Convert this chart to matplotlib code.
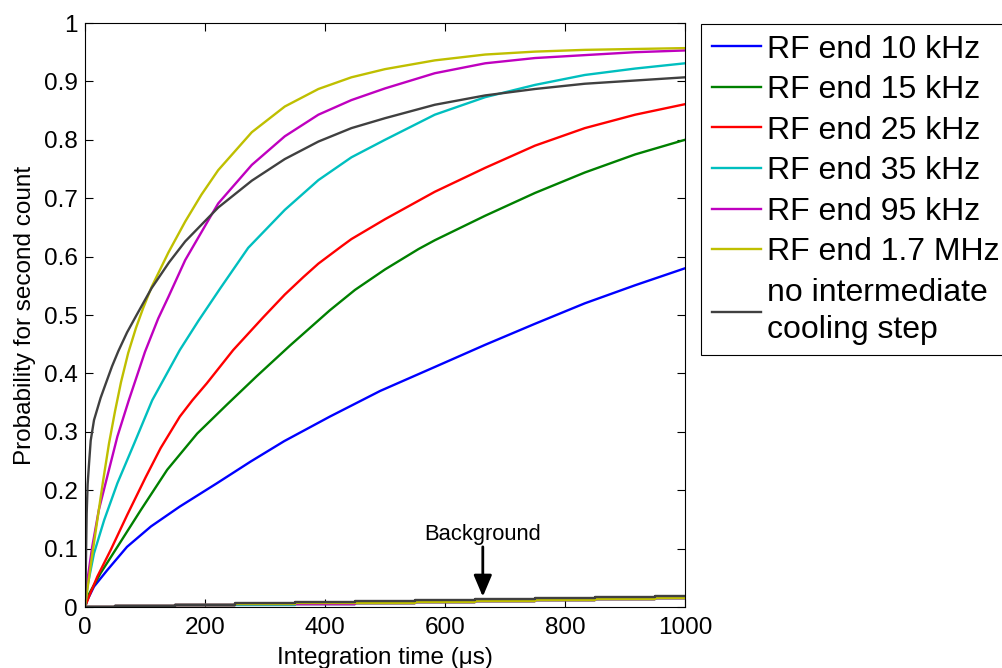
import matplotlib
matplotlib.use("Agg")
import matplotlib.pyplot as plt

plt.rcParams["font.family"] = ["Liberation Sans", "DejaVu Sans"]

# Second-count probability vs. integration time, one curve per RF end frequency
labels = ["RF end 10 kHz", "RF end 15 kHz", "RF end 25 kHz", "RF end 35 kHz",
          "RF end 95 kHz", "RF end 1.7 MHz", "no intermediate\ncooling step"]
colors = ["#0000ff", "#008000", "#ff0000", "#00bfbf", "#bf00bf", "#bfbf00", "#404040"]

t_10k = [0, 4, 15, 37, 70, 110, 158, 220, 276, 332, 408, 492, 583, 667, 750, 833, 917, 1000]
p_10k = [0, 0.012, 0.035, 0.063, 0.103, 0.138, 0.172, 0.212, 0.249, 0.284, 0.326, 0.370,
         0.411, 0.449, 0.485, 0.520, 0.551, 0.580]

t_15k = [0, 7, 26, 54, 93, 137, 187, 237, 286, 342, 408, 450, 500, 556, 583, 667, 750,
         833, 917, 1000]
p_15k = [0, 0.023, 0.058, 0.103, 0.166, 0.235, 0.297, 0.347, 0.395, 0.448, 0.508, 0.543,
         0.578, 0.613, 0.628, 0.670, 0.709, 0.744, 0.775, 0.800]

t_25k = [0, 6.7, 20.5, 43, 70.5, 101, 126, 158, 179, 203, 247, 297, 333, 364, 389, 428,
         444, 500, 583, 667, 750, 833, 917, 1000]
p_25k = [0, 0.018, 0.052, 0.098, 0.158, 0.222, 0.272, 0.326, 0.354, 0.383, 0.440, 0.496,
         0.535, 0.565, 0.588, 0.618, 0.630, 0.664, 0.711, 0.752, 0.790, 0.820, 0.843, 0.861]

t_35k = [0, 4, 15, 32, 54, 82, 112, 158, 189, 225, 272, 333, 389, 444, 500, 583, 667,
         750, 833, 917, 1000]
p_35k = [0, 0.035, 0.092, 0.149, 0.212, 0.280, 0.354, 0.440, 0.490, 0.545, 0.615, 0.680,
         0.731, 0.770, 0.800, 0.843, 0.873, 0.894, 0.911, 0.922, 0.931]

t_95k = [0, 4, 12, 23, 37, 54, 73, 100, 122, 139, 167, 206, 222, 278, 333, 389, 444, 500,
         583, 667, 750, 833, 917, 1000]
p_95k = [0, 0.046, 0.103, 0.166, 0.223, 0.292, 0.354, 0.437, 0.494, 0.531, 0.594, 0.663,
         0.691, 0.757, 0.806, 0.843, 0.868, 0.888, 0.914, 0.931, 0.940, 0.945, 0.950, 0.953]

t_17M = [0, 10, 20, 30, 40, 50, 60, 72, 85, 97, 111, 139, 167, 194, 222, 278, 333, 389,
         444, 500, 583, 667, 750, 833, 1000]
p_17M = [0, 0.075, 0.145, 0.215, 0.280, 0.335, 0.385, 0.435, 0.478, 0.512, 0.548, 0.607,
         0.660, 0.706, 0.748, 0.813, 0.857, 0.887, 0.907, 0.921, 0.936, 0.946, 0.951,
         0.954, 0.957]

t_none = [0, 1, 2.8, 4.4, 6.7, 9.5, 15, 26, 33, 45, 55.5, 70, 86, 111, 140, 167, 222, 278,
          333, 389, 444, 500, 583, 667, 750, 833, 1000]
p_none = [0, 0.041, 0.160, 0.210, 0.245, 0.285, 0.320, 0.358, 0.378, 0.412, 0.438, 0.470,
          0.500, 0.546, 0.590, 0.626, 0.684, 0.730, 0.767, 0.797, 0.820, 0.837, 0.860,
          0.876, 0.887, 0.896, 0.907]

# background counts (no ion), same colour order
t_bg = [0, 100, 200, 300, 400, 500, 600, 700, 800, 900, 1000]
bg_10k = [0, 0.0014, 0.0029, 0.0044, 0.0059, 0.0074, 0.0089, 0.0104, 0.0119, 0.0134, 0.0150]
bg_15k = [0, 0.0015, 0.0030, 0.0045, 0.0060, 0.0075, 0.0090, 0.0105, 0.0120, 0.0136, 0.0152]
bg_25k = [0, 0.0014, 0.0028, 0.0043, 0.0058, 0.0073, 0.0088, 0.0102, 0.0117, 0.0132, 0.0148]
bg_35k = [0, 0.0013, 0.0027, 0.0041, 0.0056, 0.0071, 0.0086, 0.0101, 0.0116, 0.0131, 0.0147]
bg_95k = [0, 0.0015, 0.0029, 0.0044, 0.0059, 0.0074, 0.0089, 0.0104, 0.0120, 0.0135, 0.0150]
bg_17M = [0, 0.0016, 0.0031, 0.0046, 0.0061, 0.0077, 0.0092, 0.0107, 0.0122, 0.0138, 0.0154]
bg_none = [0, 0.0020, 0.0040, 0.0060, 0.0080, 0.0100, 0.0122, 0.0140, 0.0158, 0.0174, 0.0190]

curves = [(t_10k, p_10k), (t_15k, p_15k), (t_25k, p_25k), (t_35k, p_35k),
          (t_95k, p_95k), (t_17M, p_17M), (t_none, p_none)]
backgrounds = [bg_10k, bg_15k, bg_25k, bg_35k, bg_95k, bg_17M, bg_none]

fig = plt.figure(figsize=(10.03, 6.68), dpi=100)
ax = fig.add_axes([85 / 1003, 61 / 668, 600 / 1003, 584 / 668])

handles = []
for (t, p), bg, c, lab in zip(curves, backgrounds, colors, labels):
    h, = ax.plot(t, p, color=c, lw=1.7, label=lab)
    ax.plot(t_bg, bg, color=c, lw=1.7, drawstyle="steps-mid")
    handles.append(h)

ax.set_xlim(0, 1000)
ax.set_ylim(0, 1)
ax.set_xticks(range(0, 1001, 200))
ax.set_yticks([i / 10 for i in range(11)])
ax.set_yticklabels(["0", "0.1", "0.2", "0.3", "0.4", "0.5", "0.6", "0.7", "0.8", "0.9", "1"])
ax.tick_params(direction="in", top=True, right=True, length=6, width=0.8,
               labelsize=17.5)
ax.tick_params(axis="x", pad=7)
ax.tick_params(axis="y", pad=5)
for s in ax.spines.values():
    s.set_linewidth(0.8)

ax.set_xlabel("Integration time (\u03bcs)", fontsize=17.5, labelpad=6)
ax.set_ylabel("Probability for second count", fontsize=17.5, labelpad=6)

ax.text(663, 0.115, "Background", fontsize=15.8, ha="center", va="baseline")
ax.annotate("", xy=(663, 0.0177), xytext=(663, 0.103),
            arrowprops=dict(arrowstyle="-|>,head_length=1.3,head_width=0.55",
                            color="k", lw=2, shrinkA=0, shrinkB=0))

leg = fig.legend(handles=handles, loc="upper left",
                 bbox_to_anchor=(701 / 1003, 644 / 668), borderaxespad=0,
                 fontsize=23, handlelength=1.55, handletextpad=0.2,
                 labelspacing=0.33, borderpad=0.33, fancybox=False,
                 framealpha=1)
leg.get_frame().set_edgecolor("k")
leg.get_frame().set_linewidth(0.8)
for txt in leg.get_texts():
    txt.set_linespacing(1.3)

fig.savefig("out.png", dpi=100)
